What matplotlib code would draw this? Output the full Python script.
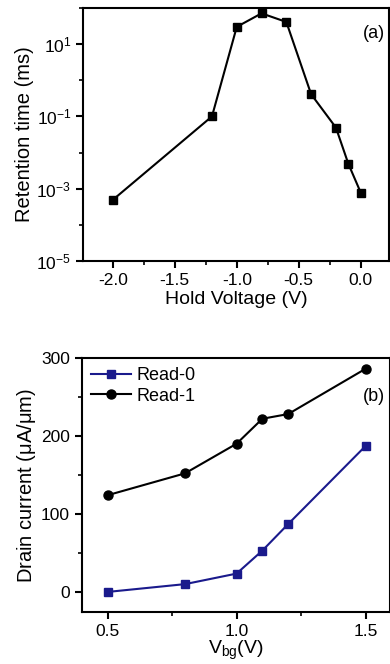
import matplotlib
matplotlib.use('Agg')
from matplotlib import pyplot as plt
from matplotlib.ticker import FixedLocator, MultipleLocator, NullFormatter

plt.rcParams['font.family'] = ['Liberation Sans', 'DejaVu Sans']
plt.rcParams['mathtext.fontset'] = 'custom'
plt.rcParams['mathtext.rm'] = 'Liberation Sans'
plt.rcParams['mathtext.it'] = 'Liberation Sans'
plt.rcParams['axes.unicode_minus'] = False

# panel (a): retention time vs hold voltage
hold_v = [-2.0, -1.2, -1.0, -0.8, -0.6, -0.4, -0.2, -0.1, 0.0]
retention = [4.9e-4, 0.1, 30, 71, 41, 0.41, 0.049, 0.0049, 7.8e-4]

# panel (b): drain current vs back gate voltage
vbg = [0.5, 0.8, 1.0, 1.1, 1.2, 1.5]
read0 = [0, 10, 23.5, 53, 87, 187]
read1 = [124, 152, 190, 222, 228, 286]

fig = plt.figure(figsize=(3.9, 6.64), dpi=100)

ax1 = fig.add_axes([0.213, 0.607, 0.785, 0.381])
ax1.plot(hold_v, retention, color='black', marker='s', markersize=6, lw=1.5)
ax1.set_yscale('log')
ax1.set_ylim(1e-5, 1e2)
ax1.set_xlim(-2.24, 0.23)
ax1.yaxis.set_major_locator(FixedLocator([1e-5, 1e-3, 1e-1, 1e1]))
ax1.yaxis.set_minor_locator(FixedLocator([1e-4, 1e-2, 1, 1e2]))
ax1.yaxis.set_minor_formatter(NullFormatter())
ax1.xaxis.set_major_locator(MultipleLocator(0.5))
ax1.xaxis.set_minor_locator(MultipleLocator(0.25))
ax1.set_xlabel('Hold Voltage (V)', fontsize=14, labelpad=2)
ax1.set_ylabel('Retention time (ms)', fontsize=14.5, labelpad=2)
ax1.text(0.985, 0.88, '(a)', transform=ax1.transAxes, fontsize=13, ha='right')

ax2 = fig.add_axes([0.21, 0.078, 0.79, 0.383])
ax2.plot(vbg, read0, color='#1a1a8c', marker='s', markersize=6, lw=1.5, label='Read-0')
ax2.plot(vbg, read1, color='black', marker='o', markersize=6.5, lw=1.5, label='Read-1')
ax2.set_xlim(0.4, 1.595)
ax2.set_ylim(-26, 300)
ax2.xaxis.set_major_locator(MultipleLocator(0.5))
ax2.xaxis.set_minor_locator(MultipleLocator(0.25))
ax2.yaxis.set_major_locator(MultipleLocator(100))
ax2.yaxis.set_minor_locator(MultipleLocator(50))
ax2.set_xlabel('V$_{\\mathregular{bg}}$(V)', fontsize=14, labelpad=0)
ax2.set_ylabel('Drain current ($\\mu$A/$\\mu$m)', fontsize=14.5, labelpad=2)
ax2.text(0.985, 0.83, '(b)', transform=ax2.transAxes, fontsize=13, ha='right')
ax2.legend(loc='upper left', frameon=False, fontsize=13, handlelength=2.2,
           handletextpad=0.3, borderaxespad=0.1, labelspacing=0.2)

for ax in (ax1, ax2):
    for s in ax.spines.values():
        s.set_linewidth(1.5)
    ax.tick_params(which='major', direction='out', length=5, width=1.5, labelsize=12.5)
    ax.tick_params(which='minor', direction='out', length=3, width=1.2)

fig.savefig('out.png', dpi=100)
